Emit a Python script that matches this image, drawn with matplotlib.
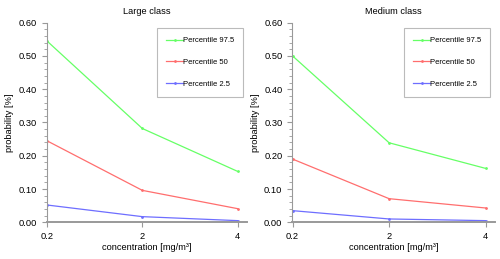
import numpy as np
import matplotlib.pyplot as plt
from matplotlib.ticker import MultipleLocator

plt.rcParams['font.family'] = ['Liberation Sans', 'DejaVu Sans']

# concentrazioni (categorie sull'asse x)
conc_labels = ['0.2', '2', '4']
legend_labels = ['Percentile 97.5', 'Percentile 50', 'Percentile 2.5']
colors = ['#66ff66', '#ff6e6e', '#6e6eff']

# classe grande
large_p975 = [0.545, 0.282, 0.153]
large_p50 = [0.245, 0.096, 0.041]
large_p25 = [0.052, 0.017, 0.005]

# classe media
medium_p975 = [0.500, 0.239, 0.162]
medium_p50 = [0.190, 0.071, 0.043]
medium_p25 = [0.035, 0.010, 0.005]


def draw(ax, title, series):
    x = np.arange(len(conc_labels))
    for vals, c, lab in zip(series, colors, legend_labels):
        ax.plot(x, vals, color=c, lw=0.9, marker='.', ms=2, label=lab)
    ax.set_xlim(-0.003, 2.095)
    ax.set_ylim(0, 0.6)
    ax.set_xticks(x)
    ax.set_xticklabels(conc_labels)
    ax.yaxis.set_major_locator(MultipleLocator(0.1))
    ax.yaxis.set_minor_locator(MultipleLocator(0.02))
    ax.yaxis.set_major_formatter(plt.FormatStrFormatter('%.2f'))
    for s in ['top', 'right']:
        ax.spines[s].set_visible(False)
    for s in ['left', 'bottom']:
        ax.spines[s].set_color('#999999')
    ax.spines['left'].set_linewidth(0.8)
    ax.spines['bottom'].set_linewidth(1.4)
    ax.tick_params(axis='both', which='major', direction='out', length=3.6,
                   width=0.8, color='#999999', labelsize=6.7, pad=3.5)
    ax.tick_params(axis='y', which='minor', direction='out', length=2.2,
                   width=0.6, color='#999999')
    ax.set_title(title, fontsize=6.7, pad=6.5)
    ax.set_xlabel('concentration [mg/m³]', fontsize=6.7, labelpad=1)
    ax.set_ylabel('probability [%]', fontsize=6.7, labelpad=3)
    leg = ax.legend(loc='upper left', bbox_to_anchor=(0.5515, 0.975),
                    fontsize=5.5, frameon=True, fancybox=False,
                    handlelength=2.2, handletextpad=0.0,
                    labelspacing=1.9, borderpad=1.2, borderaxespad=0.0)
    leg.get_frame().set_edgecolor('#aaaaaa')
    leg.get_frame().set_linewidth(0.8)


fig = plt.figure(figsize=(5, 2.59), dpi=100)
ax1 = fig.add_axes([0.0934, 0.1417, 0.40, 0.7707])
ax2 = fig.add_axes([0.5846, 0.1417, 0.405, 0.7707])

draw(ax1, 'Large class', [large_p975, large_p50, large_p25])
draw(ax2, 'Medium class', [medium_p975, medium_p50, medium_p25])

fig.savefig('out.png', dpi=100)
